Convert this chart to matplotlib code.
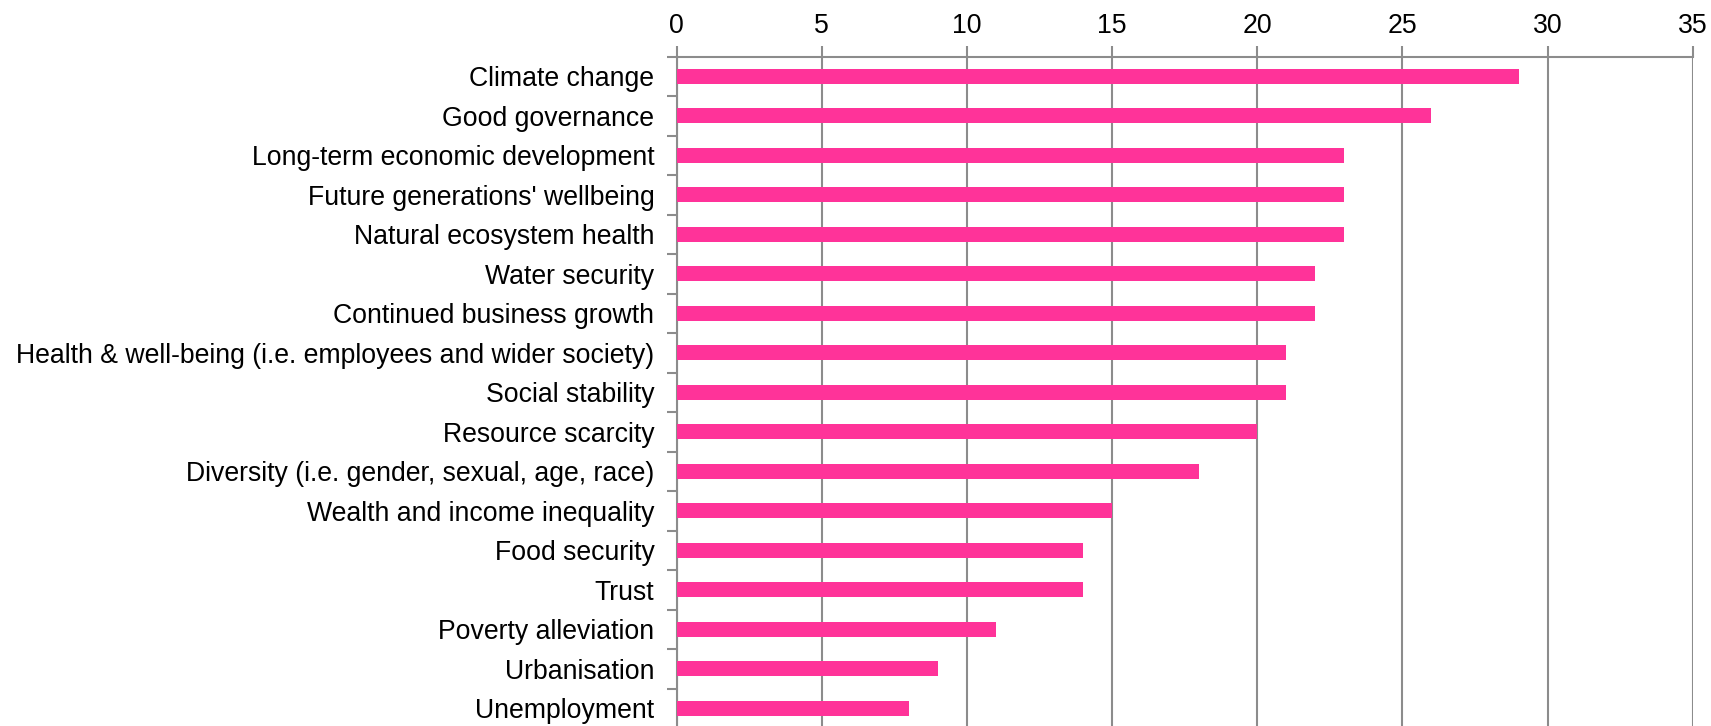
import matplotlib.pyplot as plt
import numpy as np

plt.rcParams['font.family'] = ['Liberation Sans', 'DejaVu Sans']

categories = ["Climate change", "Good governance", "Long-term economic development",
              "Future generations' wellbeing", "Natural ecosystem health", "Water security",
              "Continued business growth",
              "Health & well-being (i.e. employees and wider society)", "Social stability",
              "Resource scarcity", "Diversity (i.e. gender, sexual, age, race)",
              "Wealth and income inequality", "Food security", "Trust",
              "Poverty alleviation", "Urbanisation", "Unemployment"]
values = [29, 26, 23, 23, 23, 22, 22, 21, 21, 20, 18, 15, 14, 14, 11, 9, 8]
xticks = [0, 5, 10, 15, 20, 25, 30, 35]

fig = plt.figure(figsize=(17.11, 7.26), dpi=100)
ax = fig.add_axes([0.3955, -0.003, 0.5938, 0.925])

y = np.arange(len(categories))
ax.barh(y, values, height=0.38, color='#FF3399', zorder=3)

ax.set_ylim(len(categories) - 0.5, -0.5)
ax.set_xlim(0, 35)
ax.set_xticks(xticks)
ax.xaxis.tick_top()
ax.grid(axis='x', color='#8c8c8c', linewidth=1.5, zorder=0)

ax.set_yticks(y)
ax.set_yticklabels(categories)
ax.set_yticks(np.arange(-0.5, len(categories), 1), minor=True)
ax.tick_params(axis='y', which='major', length=0, pad=16, labelsize=19.2)
ax.tick_params(axis='y', which='minor', length=7, width=1.5, color='#8c8c8c')
ax.tick_params(axis='x', length=8, width=1.5, color='#8c8c8c', pad=5, labelsize=19.2)

for s in ['right', 'bottom']:
    ax.spines[s].set_visible(False)
for s in ['top', 'left']:
    ax.spines[s].set_color('#8c8c8c')
    ax.spines[s].set_linewidth(1.5)

fig.savefig('out.png', dpi=100)
